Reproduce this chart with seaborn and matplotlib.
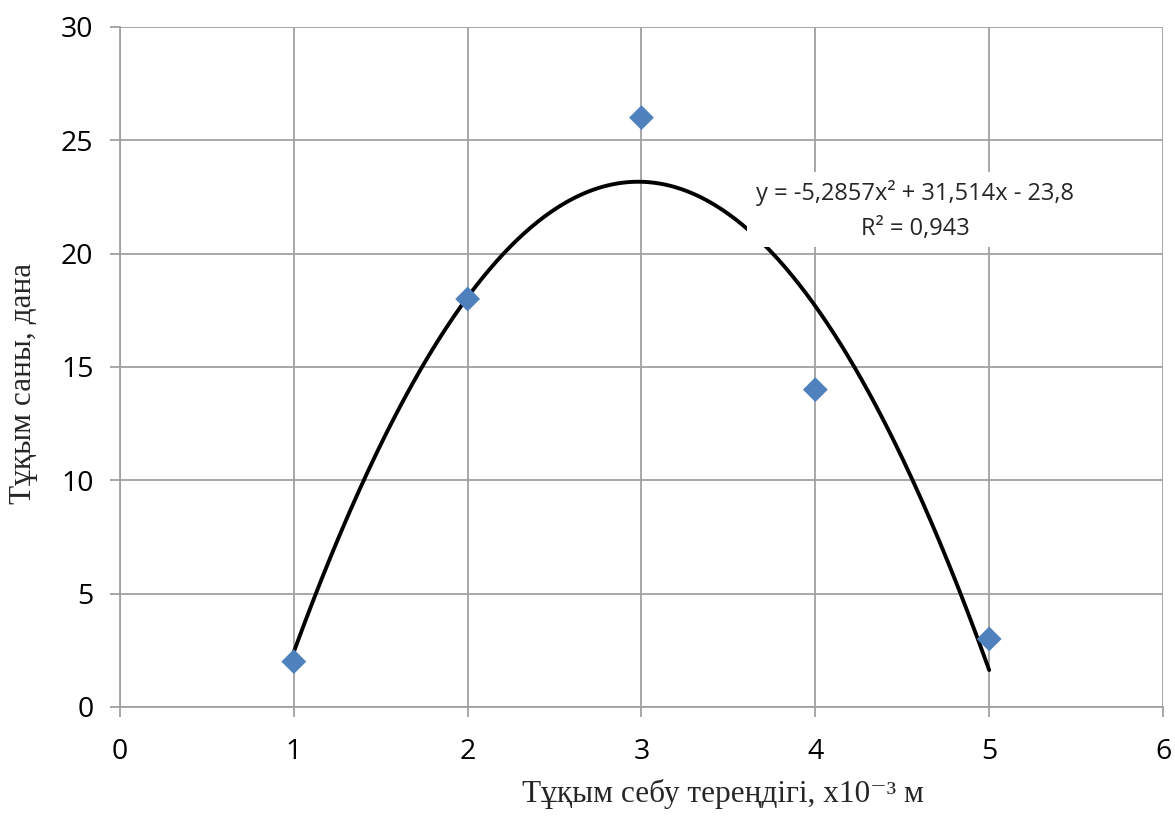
import numpy as np
import pandas as pd
import matplotlib
matplotlib.use("Agg")
import matplotlib.pyplot as plt
from matplotlib.patches import Rectangle
import seaborn as sns

# Sowing depth (x10^-3 m) and seed count
depth = [1, 2, 3, 4, 5]
seeds = [2, 18, 26, 14, 3]

# Polynomial trend line coefficients (a*x^2 + b*x + c) and fit quality
coef_a, coef_b, coef_c = -5.2857, 31.514, -23.8
r_squared = 0.943

x_ticks = [0, 1, 2, 3, 4, 5, 6]
y_ticks = [0, 5, 10, 15, 20, 25, 30]

x_title = "Тұқым себу тереңдігі, х10⁻³ м"
y_title = "Тұқым саны, дана"

sns.set_theme(style="white")
plt.rcParams["font.family"] = ["Open Sans", "DejaVu Sans"]

fig = plt.figure(figsize=(11.75, 8.33), dpi=100)
ax = fig.add_axes([0.1021, 0.1513, 0.8877, 0.8163])

grid_col = "#A0A0A0"

# quadratic trend line over the measured range
xs = np.linspace(min(depth), max(depth), 300)
trend = pd.DataFrame({"x": xs, "y": coef_a * xs**2 + coef_b * xs + coef_c})
sns.lineplot(data=trend, x="x", y="y", color="black", linewidth=2.8, ax=ax, zorder=3)

pts = pd.DataFrame({"depth": depth, "seeds": seeds})
sns.scatterplot(data=pts, x="depth", y="seeds", marker="D", s=160, color="#4F81BD",
                edgecolor="none", ax=ax, zorder=4)

ax.set_xlim(0, 6)
ax.set_ylim(0, 30)
ax.set_xticks(x_ticks)
ax.set_yticks(y_ticks)
ax.grid(True, color=grid_col, linewidth=1.3)
ax.set_axisbelow(True)
for side, sp in ax.spines.items():
    sp.set_visible(side in ("left", "bottom"))
    sp.set_color(grid_col)
    sp.set_linewidth(1.3)
ax.tick_params(axis="both", which="both", length=7, width=1.3, color=grid_col,
               labelsize=20.5, labelcolor="black", direction="out")
ax.tick_params(axis="x", bottom=True, pad=15)
ax.tick_params(axis="y", left=True, pad=12)

ax.set_xlabel(x_title, family=["Liberation Serif", "DejaVu Serif"], fontsize=22.5)
ax.set_ylabel(y_title, family=["Liberation Serif", "DejaVu Serif"], fontsize=22.5)
ax.xaxis.set_label_coords(0.578, -0.106)
ax.yaxis.set_label_coords(-0.079, 0.476)

# equation label on a white panel
ax.add_patch(Rectangle((3.607, 20.3), 2.0, 3.3, facecolor="white", edgecolor="none",
                       zorder=5))
eq = (f"y = {coef_a:.4f}x² + {coef_b:.3f}x - {abs(coef_c):.1f}".replace(".", ",")
      + "\n" + f"R² = {r_squared:.3f}".replace(".", ","))
ax.text(4.574, 21.92, eq, ha="center", va="center", fontsize=17, linespacing=1.6,
        zorder=6)

fig.savefig("out.png", dpi=100)
